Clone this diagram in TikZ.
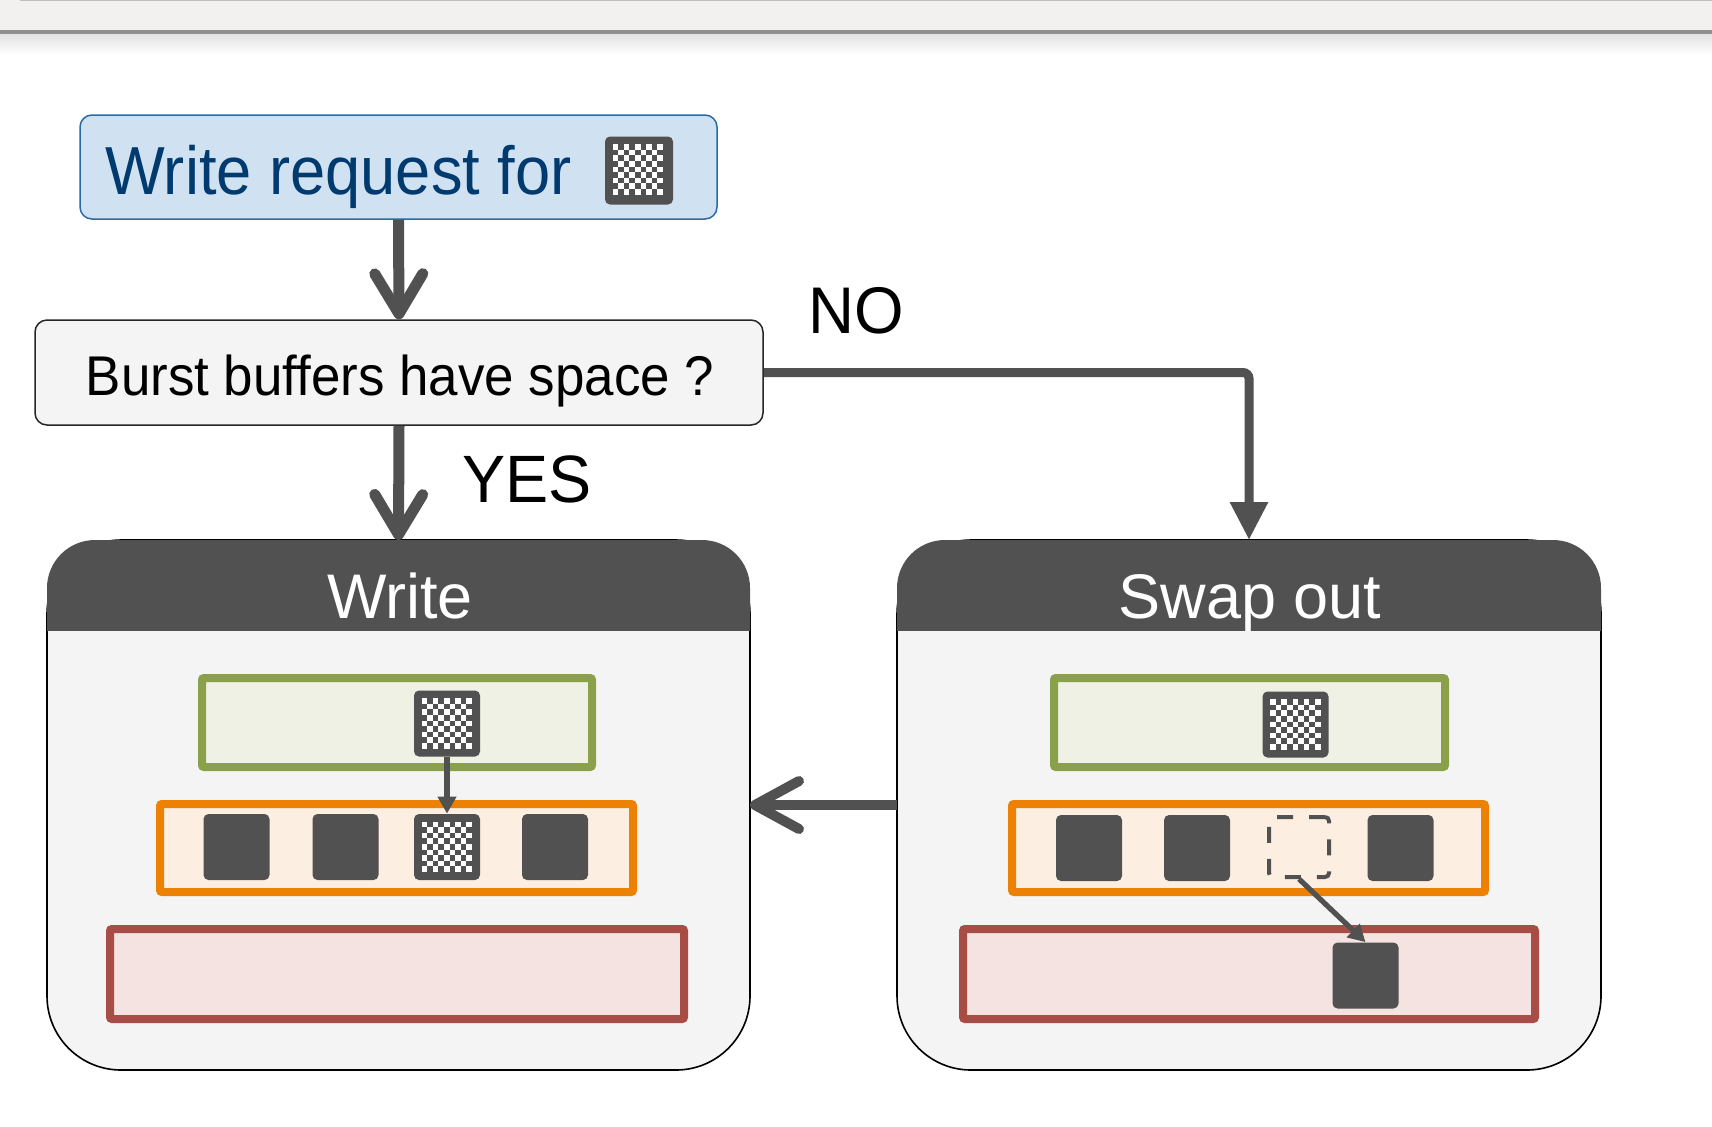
\documentclass[tikz,border=0pt]{standalone}
\usepackage{fontspec}
\newfontfamily\lsans[FakeStretch=0.93]{Liberation Sans}
\newfontfamily\qsans[FakeStretch=0.945]{Liberation Sans}
\newfontfamily\ysans[FakeStretch=0.965]{Liberation Sans}
\newfontfamily\tsans{Liberation Sans}
\usetikzlibrary{arrows.meta}
\definecolor{dk}{HTML}{515151}
\definecolor{panelbg}{HTML}{F4F4F4}
\definecolor{reqfill}{HTML}{D0E1F2}
\definecolor{reqdraw}{HTML}{2A6AA5}
\definecolor{reqtext}{HTML}{003A6E}
\definecolor{grdraw}{HTML}{8AA04B}
\definecolor{grfill}{HTML}{EEF1E3}
\definecolor{ordraw}{HTML}{EC8104}
\definecolor{orfill}{HTML}{FDEEE2}
\definecolor{rddraw}{HTML}{A84D46}
\definecolor{rdfill}{HTML}{F4E3E1}
\definecolor{bandfill}{HTML}{F2F1EF}
\definecolor{bandline}{HTML}{8F8F8F}

% checkerboard inside a named block (coordinates in px, y downwards)
\newcommand\checkerin[1]{%
  \begin{scope}[shift={(#1.north west)}]
    \foreach \i in {0,...,8}{
      \foreach \j in {0,...,8}{
        \pgfmathtruncatemacro\parity{mod(\i+\j,2)}
        \ifnum\parity=0
          \fill[white] (8+\i*5.6,8+\j*5.6) rectangle +(5.6,5.6);
        \fi
      }
    }
  \end{scope}}

% rounded panel with dark header band
\newcommand\panelshape[1]{%
  \path[fill=panelbg,draw=black,line width=0.8pt,rounded corners=37pt]
    (#1.north west) rectangle (#1.south east);
  \begin{scope}
    \clip ([xshift=-3pt,yshift=3pt]#1.north west) rectangle ([xshift=3pt,yshift=-45pt]#1.north east);
    \fill[dk,rounded corners=24pt] (#1.north west) rectangle ([yshift=-90pt]#1.north east);
  \end{scope}}

\begin{document}
\begin{tikzpicture}[x=0.5pt,y=-0.5pt,
  flowbox/.style={rectangle,rounded corners=6pt,inner sep=0pt,line width=0.75pt},
  tier/.style={rectangle,inner sep=0pt,line width=4pt,rounded corners=1pt},
  blk/.style={rectangle,fill=dk,rounded corners=2.5pt,minimum size=33pt,inner sep=0pt},
  panelnode/.style={rectangle,inner sep=0pt,outer sep=0pt,minimum height=265pt},
  bigarrow/.style={draw=dk,line width=5.5pt,-{Straight Barb[round,length=20pt,width=24pt]}},
  smallarrow/.style={draw=dk,line width=2.6pt,-{Triangle[length=8.5pt,width=9pt]}},
  lbl/.style={anchor=base,inner sep=0pt}]
\useasboundingbox (0,0) rectangle (1712,1126);
\fill[white] (0,0) rectangle (1712,1126);

% window band at the top
\fill[bandfill] (0,0) rectangle (1712,31);
\draw[black!25,line width=0.5pt] (20,0.5) -- (1712,0.5);
\shade[top color=black!12,bottom color=white] (0,33) rectangle (1712,55);
\fill[bandline] (0,30) rectangle (1712,34);

% request and decision
\node[flowbox,draw=reqdraw,fill=reqfill,minimum width=318.5pt,minimum height=52pt] (req) at (398.5,167) {};
\node[lbl,anchor=base west,text=reqtext,font=\lsans\fontsize{34}{34}\selectfont] (reqtxt) at (105,194) {Write request for};
\node[blk,minimum size=34pt] (reqblk) at (639,170.5) {};
\checkerin{reqblk}

\node[flowbox,draw=black!85,fill=panelbg,minimum width=364pt,minimum height=52.5pt] (burst) at (399,372.5) {};
\node[lbl,font=\qsans\fontsize{28}{28}\selectfont] (bursttxt) at (400,395) {Burst buffers have space ?};

% panels
\node[panelnode,minimum width=351.5pt] (wpanel) at (398.5,805) {};
\node[panelnode,minimum width=352pt] (spanel) at (1249,805) {};
\panelshape{wpanel}
\panelshape{spanel}
\node[lbl,text=white,font=\tsans\fontsize{31.5}{31.5}\selectfont] (wtitle) at (400,618) {Write};
\node[lbl,text=white,font=\tsans\fontsize{31.5}{31.5}\selectfont] (stitle) at (1250,618) {Swap out};

% flow arrows
\draw[bigarrow] (req.south) -- (burst.north);
\draw[bigarrow] (burst.south) -- (wpanel.north);
\node[lbl,anchor=base west,font=\ysans\fontsize{33.5}{33.5}\selectfont] (yes) at (462,502) {YES};
\draw[draw=dk,line width=4.5pt,rounded corners=3pt,-{Triangle[length=19pt,width=18pt]}]
  (burst.east) -- (burst.east -| spanel.north) -- (spanel.north);
\node[lbl,anchor=base west,font=\ysans\fontsize{33}{33}\selectfont] (no) at (808,333) {NO};
\draw[draw=dk,line width=5pt,-{Straight Barb[round,length=22pt,width=24pt]}] (spanel.west) -- (wpanel.east);

% storage tiers of the write panel
\node[tier,draw=grdraw,fill=grfill,minimum width=195pt,minimum height=44.5pt] (wg) at (397,722.5) {};
\node[tier,draw=ordraw,fill=orfill,minimum width=236.5pt,minimum height=44pt] (wo) at (396.5,848) {};
\node[tier,draw=rddraw,fill=rdfill,minimum width=287pt,minimum height=45pt] (wr) at (397,974) {};
\node[blk] (wgblk) at (447,723.5) {};
\checkerin{wgblk}
\node[blk] (wo1) at (236.5,847) {};
\node[blk] (wo2) at (345.5,847) {};
\node[blk] (wo3) at (447,847) {};
\checkerin{wo3}
\node[blk] (wo4) at (555,847) {};
\draw[smallarrow] (wgblk.south) -- (wo3.north);

% storage tiers of the swap-out panel
\node[tier,draw=grdraw,fill=grfill,minimum width=195.5pt,minimum height=44.5pt] (sg) at (1249.5,722.5) {};
\node[tier,draw=ordraw,fill=orfill,minimum width=236.5pt,minimum height=44pt] (so) at (1248.5,848) {};
\node[tier,draw=rddraw,fill=rdfill,minimum width=286pt,minimum height=45pt] (sr) at (1249,974) {};
\node[blk] (sgblk) at (1295.5,724.5) {};
\checkerin{sgblk}
\node[blk] (so1) at (1089,848) {};
\node[blk] (so2) at (1197,848) {};
\node[rectangle,draw=dk,line width=2pt,dash pattern=on 8pt off 8pt,rounded corners=2pt,minimum size=30pt,inner sep=0pt] (sodash) at (1299,847) {};
\node[blk] (so4) at (1400.5,848) {};
\node[blk] (srblk) at (1365.5,975.5) {};
\draw[smallarrow] (sodash.south) -- (srblk.north);
\end{tikzpicture}
\end{document}
